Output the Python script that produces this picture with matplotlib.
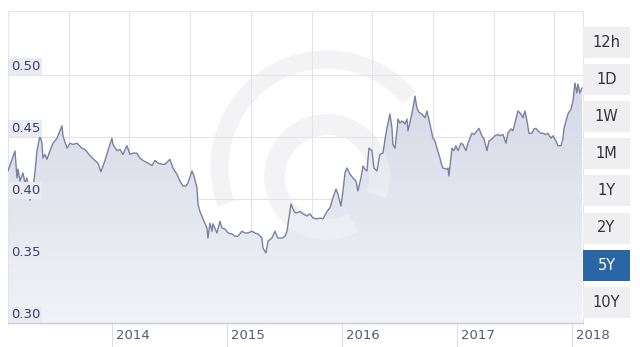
import numpy as np
import matplotlib
matplotlib.use("Agg")
import matplotlib.pyplot as plt
from matplotlib.patches import Rectangle, Arc
from matplotlib.path import Path

# decimal year of each reading and the rate at that time
years = [
    2013.096, 2013.157, 2013.174, 2013.183, 2013.200, 2013.226, 2013.243, 2013.261,
    2013.287, 2013.313, 2013.330, 2013.348, 2013.374, 2013.391, 2013.400, 2013.417,
    2013.435, 2013.461, 2013.487, 2013.522, 2013.548, 2013.565, 2013.574, 2013.609,
    2013.635, 2013.661, 2013.696, 2013.739, 2013.765, 2013.809, 2013.852, 2013.878,
    2013.904, 2013.939, 2013.965, 2014.000, 2014.009, 2014.043, 2014.070, 2014.096,
    2014.130, 2014.157, 2014.183, 2014.217, 2014.243, 2014.270, 2014.313, 2014.348,
    2014.374, 2014.400, 2014.435, 2014.461, 2014.504, 2014.530, 2014.565, 2014.591,
    2014.617, 2014.643, 2014.661, 2014.696, 2014.713, 2014.739, 2014.748, 2014.765,
    2014.791, 2014.826, 2014.835, 2014.852, 2014.870, 2014.878, 2014.913, 2014.939,
    2014.957, 2014.983, 2015.009, 2015.043, 2015.070, 2015.096, 2015.130, 2015.157,
    2015.183, 2015.217, 2015.243, 2015.270, 2015.304, 2015.313, 2015.339, 2015.357,
    2015.391, 2015.417, 2015.443, 2015.478, 2015.504, 2015.522, 2015.539, 2015.557,
    2015.574, 2015.591, 2015.617, 2015.635, 2015.661, 2015.696, 2015.722, 2015.748,
    2015.783, 2015.809, 2015.835, 2015.870, 2015.896, 2015.922, 2015.948, 2015.965,
    2015.991, 2016.009, 2016.026, 2016.043, 2016.070, 2016.096, 2016.122, 2016.139,
    2016.165, 2016.183, 2016.200, 2016.217, 2016.235, 2016.261, 2016.278, 2016.304,
    2016.330, 2016.357, 2016.374, 2016.391, 2016.417, 2016.435, 2016.443, 2016.461,
    2016.478, 2016.487, 2016.504, 2016.522, 2016.548, 2016.565, 2016.574, 2016.600,
    2016.617, 2016.635, 2016.652, 2016.670, 2016.696, 2016.722, 2016.739, 2016.765,
    2016.791, 2016.809, 2016.826, 2016.852, 2016.870, 2016.878, 2016.913, 2016.922,
    2016.930, 2016.957, 2016.974, 2016.991, 2017.009, 2017.035, 2017.052, 2017.078,
    2017.096, 2017.130, 2017.148, 2017.174, 2017.191, 2017.217, 2017.235, 2017.261,
    2017.278, 2017.304, 2017.330, 2017.357, 2017.374, 2017.400, 2017.426, 2017.443,
    2017.470, 2017.487, 2017.513, 2017.530, 2017.557, 2017.574, 2017.591, 2017.609,
    2017.626, 2017.652, 2017.670, 2017.687, 2017.704, 2017.730, 2017.748, 2017.774,
    2017.791, 2017.817, 2017.835, 2017.861, 2017.878, 2017.904, 2017.922, 2017.930,
    2017.948, 2017.965, 2017.991, 2018.009, 2018.026, 2018.043, 2018.052, 2018.070,
    2018.087,
]
rates = [
    0.4226, 0.4387, 0.4170, 0.4240, 0.4145, 0.4210, 0.4130, 0.4170,
    0.3990, 0.4090, 0.4210, 0.4390, 0.4510, 0.4450, 0.4330, 0.4360,
    0.4320, 0.4390, 0.4450, 0.4490, 0.4550, 0.4590, 0.4510, 0.4410,
    0.4450, 0.4440, 0.4450, 0.4410, 0.4400, 0.4350, 0.4310, 0.4290,
    0.4220, 0.4310, 0.4390, 0.4490, 0.4440, 0.4390, 0.4400, 0.4360,
    0.4430, 0.4360, 0.4370, 0.4370, 0.4330, 0.4310, 0.4290, 0.4270,
    0.4310, 0.4290, 0.4280, 0.4280, 0.4320, 0.4250, 0.4200, 0.4145,
    0.4105, 0.4105, 0.4130, 0.4226, 0.4186, 0.4090, 0.3960, 0.3900,
    0.3840, 0.3766, 0.3685, 0.3806, 0.3740, 0.3800, 0.3726, 0.3820,
    0.3766, 0.3758, 0.3726, 0.3718, 0.3700, 0.3700, 0.3740, 0.3726,
    0.3726, 0.3740, 0.3726, 0.3718, 0.3685, 0.3605, 0.3565, 0.3660,
    0.3685, 0.3740, 0.3685, 0.3685, 0.3700, 0.3740, 0.3846, 0.3960,
    0.3920, 0.3890, 0.3890, 0.3900, 0.3880, 0.3863, 0.3880, 0.3846,
    0.3840, 0.3846, 0.3840, 0.3900, 0.3930, 0.4010, 0.4080, 0.4040,
    0.3944, 0.4065, 0.4210, 0.4250, 0.4200, 0.4170, 0.4145, 0.4065,
    0.4170, 0.4266, 0.4240, 0.4226, 0.4410, 0.4390, 0.4250, 0.4226,
    0.4360, 0.4370, 0.4480, 0.4570, 0.4685, 0.4570, 0.4440, 0.4410,
    0.4550, 0.4645, 0.4613, 0.4630, 0.4605, 0.4645, 0.4550, 0.4655,
    0.4730, 0.4830, 0.4730, 0.4700, 0.4685, 0.4655, 0.4710, 0.4605,
    0.4490, 0.4468, 0.4410, 0.4330, 0.4266, 0.4250, 0.4240, 0.4250,
    0.4186, 0.4410, 0.4390, 0.4430, 0.4390, 0.4450, 0.4440, 0.4390,
    0.4450, 0.4530, 0.4520, 0.4550, 0.4570, 0.4510, 0.4484, 0.4390,
    0.4468, 0.4484, 0.4510, 0.4520, 0.4510, 0.4520, 0.4450, 0.4530,
    0.4565, 0.4550, 0.4645, 0.4710, 0.4685, 0.4655, 0.4710, 0.4630,
    0.4530, 0.4530, 0.4565, 0.4570, 0.4550, 0.4530, 0.4530, 0.4520,
    0.4530, 0.4490, 0.4510, 0.4468, 0.4430, 0.4430, 0.4490, 0.4565,
    0.4630, 0.4685, 0.4725, 0.4790, 0.4935, 0.4855, 0.4927, 0.4855,
    0.4895,
]

year_ticks = [2014, 2015, 2016, 2017, 2018]
rate_ticks = [0.30, 0.35, 0.40, 0.45, 0.50]
buttons = ["12h", "1D", "1W", "1M", "1Y", "2Y", "5Y", "10Y"]
active = "5Y"

x = np.array(years)
y = np.array(rates)
x0, x1 = 2013.096, 2018.096
y0, y1 = 0.30, 0.5516

fig = plt.figure(figsize=(6.4, 3.47), dpi=100)
ax = fig.add_axes([8 / 640, 24 / 347, 575 / 640, 312 / 347])
ax.set_xlim(x0, x1)
ax.set_ylim(y0, y1)

# grid
ax.set_yticks(rate_ticks)
ax.set_xticks(year_ticks)
ax.set_xticks(np.arange(x0, x1, 0.528), minor=True)
ax.grid(which="minor", axis="x", color="#e3e3e8", lw=0.8)
ax.grid(which="major", axis="y", color="#e3e3e8", lw=0.8)
ax.set_axisbelow(True)

# gradient fill under the line
poly = ax.fill_between(x, y, y0, color="none", lw=0, zorder=1)
grad = np.linspace(0, 1, 256).reshape(-1, 1)
img = ax.imshow(grad, extent=[x0, x1, y0, 0.50], origin="lower", aspect="auto",
                cmap=matplotlib.colors.LinearSegmentedColormap.from_list(
                    "g", ["#f2f3f7", "#d4d7e6"]), zorder=1)
clip = Path(poly.get_paths()[0].vertices)
img.set_clip_path(clip, transform=ax.transData)
ax.set_xlim(x0, x1)
ax.set_ylim(y0, y1)

# faint "xe" watermark: grey on white, lighter on the fill
rings = [((3.27, 1.80), 2.15, 40, 200, 13), ((3.27, 1.70), 1.05, -20, 300, 15)]
for c, d, t1, t2, w in rings:
    ax.add_patch(Arc(c, d, d, theta1=t1, theta2=t2, transform=fig.dpi_scale_trans,
                     color="#f3f3f6", lw=w, zorder=0.5))
    a = Arc(c, d, d, theta1=t1, theta2=t2, transform=fig.dpi_scale_trans,
            color="white", alpha=0.3, lw=w, zorder=2)
    ax.add_patch(a)
    a.set_clip_path(clip, transform=ax.transData)

ax.plot(x, y, color="#7b80a3", lw=1.0, zorder=3)

# spines
for s in ["top", "left", "right"]:
    ax.spines[s].set_color("#e3e3e8")
    ax.spines[s].set_linewidth(0.8)
ax.spines["bottom"].set_color("#c9cad3")
ax.spines["bottom"].set_linewidth(1.0)

# x ticks
ax.tick_params(axis="x", which="major", length=17, width=0.8, color="#dcdce2",
               labelsize=9.5, labelcolor="#555a70", pad=-13)
ax.tick_params(axis="x", which="minor", length=0)
for lbl in ax.get_xticklabels():
    lbl.set_horizontalalignment("left")
    lbl.set_transform(lbl.get_transform() + matplotlib.transforms.ScaledTranslation(
        4 / 100, 0, fig.dpi_scale_trans))

# y labels inside plot
ax.tick_params(axis="y", length=0, labelleft=False)
for v in rate_ticks:
    ax.text(x0 + 0.025, v + 0.0015, f"{v:.2f}", fontsize=9.5, color="#3b406b",
            va="bottom", ha="left", zorder=5,
            bbox=dict(boxstyle="square,pad=0.15", fc="#e9eaf2", ec="none"))

# range buttons
for i, b in enumerate(buttons):
    top = 27 + i * 37.1
    on = b == active
    fig.patches.append(Rectangle((583 / 640, 1 - (top + 31) / 347), 47 / 640, 31 / 347,
                                 transform=fig.transFigure,
                                 fc="#2a66a6" if on else "#efeff2", ec="none"))
    fig.text(606.5 / 640, 1 - (top + 15.5) / 347, b, ha="center", va="center",
             fontsize=10.5, color="white" if on else "#333333")

fig.savefig("out.png", dpi=100)
